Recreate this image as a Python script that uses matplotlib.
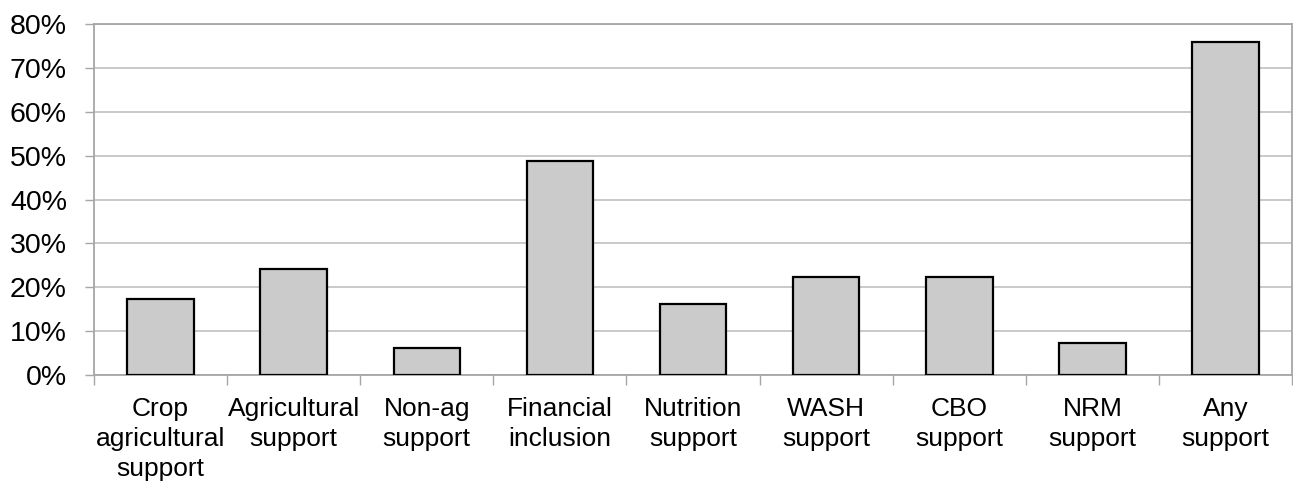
import matplotlib
matplotlib.use("Agg")
import matplotlib.pyplot as plt
from matplotlib.ticker import FuncFormatter, FixedLocator

plt.rcParams['font.family'] = ['Liberation Sans', 'DejaVu Sans']

categories = [
    "Crop\nagricultural\nsupport",
    "Agricultural\nsupport",
    "Non-ag\nsupport",
    "Financial\ninclusion",
    "Nutrition\nsupport",
    "WASH\nsupport",
    "CBO\nsupport",
    "NRM\nsupport",
    "Any\nsupport",
]
shares = [17.4, 24.1, 6.1, 48.8, 16.2, 22.3, 22.3, 7.3, 75.9]
y_ticks = [0, 10, 20, 30, 40, 50, 60, 70, 80]

W, H = 1293, 484
fig = plt.figure(figsize=(W / 100, H / 100), dpi=100)
ax = fig.add_axes([94 / W, (H - 375) / H, (1292 - 94) / W, (375 - 24) / H])

grid_col = "#c0c0c0"
spine_col = "#a6a6a6"

centers = [i + 0.5 for i in range(len(categories))]
ax.bar(centers, shares, width=0.5, color="#cbcbcb", edgecolor="black",
       linewidth=1.6, zorder=3)

ax.set_xlim(0, len(categories))
ax.set_ylim(0, 80)

ax.set_yticks(y_ticks)
ax.yaxis.set_major_formatter(FuncFormatter(lambda v, _: f"{v:.0f}%"))
ax.grid(axis="y", color=grid_col, linewidth=1.2, zorder=0)

# category labels at centres, tick marks on the category boundaries
ax.set_xticks(centers)
ax.set_xticklabels(categories, linespacing=1.32)
ax.xaxis.set_minor_locator(FixedLocator(range(len(categories) + 1)))
ax.tick_params(axis="x", which="major", length=0, pad=16, labelsize=19)
ax.tick_params(axis="x", which="minor", length=7, width=1, color=spine_col)
ax.tick_params(axis="y", length=6.5, width=1, color=spine_col, pad=13,
               labelsize=20.5)

for side in ("left", "bottom", "top", "right"):
    ax.spines[side].set_color(spine_col)
    ax.spines[side].set_linewidth(1.3)

fig.savefig("out.png", dpi=100)
